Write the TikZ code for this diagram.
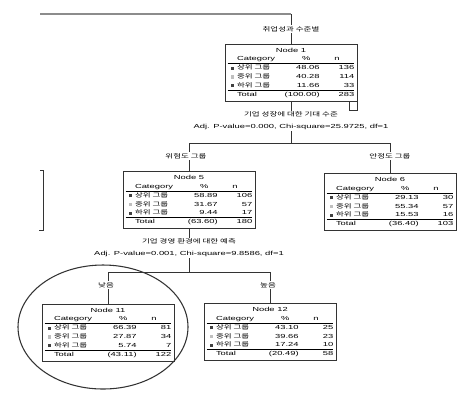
\documentclass[tikz,border=0pt]{standalone}
\usepackage{fontspec}
\usepackage{array}
\setmainfont{Liberation Sans}
\newfontfamily\latn[FakeStretch=1.6]{Liberation Sans}
\newfontfamily\kr[FakeStretch=1.45]{Noto Sans CJK KR}
\usetikzlibrary{positioning,calc}

\newcommand{\tabsize}{\latn\fontsize{4.4}{5}\selectfont}
\newcommand{\krsize}{\kr\fontsize{4.4}{5}\selectfont}
\newcommand{\mk}[1]{\textcolor{#1}{\rule{2.4pt}{2.4pt}}}
% node table: title, three rows (% and n), total
\newcommand{\nodetab}[9]{%
  \renewcommand{\arraystretch}{1.3}%
  \begin{tabular}{@{}wc{7pt}@{}wl{42pt}@{}wr{20pt}@{}wr{26pt}@{}}
    \multicolumn{4}{c}{#1}\\
    & Category & \multicolumn{1}{c}{\%} & \multicolumn{1}{c}{n}\\ \hline
    \mk{black!75} & {\kr 상위 그룹} & #2 & #3\\
    \mk{black!25} & {\kr 중위 그룹} & #4 & #5\\
    \mk{black!75} & {\kr 하위 그룹} & #6 & #7\\ \hline
    & Total & (#8) & #9
  \end{tabular}}

\begin{document}
\begin{tikzpicture}[x=0.75pt, y=-0.75pt,
    nodebox/.style={rectangle, draw=black!80, line width=0.6pt, inner sep=1.5pt,
                    minimum width=99pt, minimum height=42pt, font=\tabsize},
    edge/.style={draw=black!80, line width=0.6pt},
    topline/.style={draw=black!45, line width=1.4pt},
    branch/.style={fill=white, inner sep=1pt, font=\krsize},
    split/.style={fill=white, inner sep=1pt, align=center, font=\tabsize}
  ]
  \useasboundingbox (0,0) rectangle (470,394);

  % Tree nodes
  \node[nodebox] (root) at (291,72.5) {\nodetab{Node 1}{48.06}{136}{40.28}{114}{11.66}{33}{100.00}{283}};
  \node[nodebox] (grp_left) at (189,200) {\nodetab{Node 5}{58.89}{106}{31.67}{57}{9.44}{17}{63.60}{180}};
  \node[nodebox] (grp_right) at (390,202) {\nodetab{Node 6}{29.13}{30}{55.34}{57}{15.53}{16}{36.40}{103}};
  \node[nodebox] (sub_low) at (108,332.5) {\nodetab{Node 11}{66.39}{81}{27.87}{34}{5.74}{7}{43.11}{122}};
  \node[nodebox] (sub_high) at (270,332) {\nodetab{Node 12}{43.10}{25}{39.66}{23}{17.24}{10}{20.49}{58}};

  % Connectors
  \coordinate (top) at (40,14);
  \coordinate (split_a) at (291,143);
  \coordinate (split_b) at (189,272);
  \draw[topline] (top) -- (top -| root.north);
  \draw[edge] (top -| root.north) -- (root.north);
  \draw[edge] (root.south) -- (split_a);
  \draw[edge] (split_a) -| (grp_left.north);
  \draw[edge] (split_a) -| (grp_right.north);
  \draw[edge] (grp_left.south) -- (split_b);
  \draw[edge] (split_b) -| (sub_low.north);
  \draw[edge] (split_b) -| (sub_high.north);

  % Small marks
  \draw[edge] (root.south east) ++(-8,0) rectangle ++(8,9);
  \draw[edge] (40,170) -- (43,170) -- (43,230) -- (39,230);
  \draw[edge, line width=0.8pt] (103,327) ellipse [x radius=85, y radius=62];

  % Branch and split labels
  \node[branch] (lab_root) at (291,29) {취업성과 수준별};
  \node[split] (split_root) at (291,121) {{\kr 기업 성장에 대한 기대 수준}\\[4pt]Adj. P-value=0.000, Chi-square=25.9725, df=1};
  \node[branch] (lab_left) at (186,156) {위험도 그룹};
  \node[branch] (lab_right) at (390,156) {안정도 그룹};
  \node[split] (split_left) at (189,248) {{\kr 기업 경영 환경에 대한 예측}\\[4pt]Adj. P-value=0.001, Chi-square=9.8586, df=1};
  \node[branch] (lab_low) at (106,285) {낮음};
  \node[branch] (lab_high) at (268,285) {높음};

\end{tikzpicture}
\end{document}
